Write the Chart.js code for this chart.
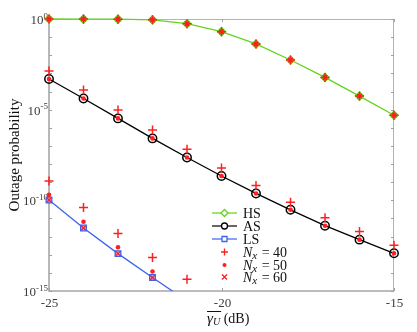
<!DOCTYPE html>
<html>
<head>
<meta charset="utf-8">
<script src="https://cdn.jsdelivr.net/npm/chart.js@4/dist/chart.umd.min.js"></script>
<style>
  html, body { margin: 0; padding: 0; background: #fff; }
  #wrap { width: 417px; height: 332px; position: relative; }
</style>
</head>
<body>
<div id="wrap"><canvas id="chart"></canvas></div>
<script>
// SNR axis (dB)
var snrAll = [-25, -24, -23, -22, -21, -20, -19, -18, -17, -16, -15];
var snrLS = [-25, -24, -23, -22, -21];

// analytical curves
var hsVals = [1, 0.99, 0.98, 0.9, 0.55, 0.2, 0.042, 5.5e-3, 6.0e-4, 5.6e-5, 4.9e-6];
var asVals = [4.9e-4, 4.1e-5, 3.3e-6, 2.6e-7, 2.3e-8, 2.2e-9, 2.4e-10, 3.0e-11, 4.0e-12, 6.8e-13, 1.2e-13];
var lsVals = [1.05e-10, 3.0e-12, 1.15e-13, 5.6e-15, 2.8e-16];

// simulation points, Nx = 40 / 50 / 60
var n40AS = [1.35e-3, 1.2e-4, 9.5e-6, 7.6e-7, 6.5e-8, 6.0e-9, 6.5e-10, 7.8e-11, 1.1e-11, 1.9e-12, 3.3e-13];
var n40LS = [1.15e-9, 4.0e-11, 1.5e-12, 7.1e-14, 4.4e-15];
var n50LS = [2.0e-10, 6.6e-12, 2.6e-13, 1.2e-14];
var n60LS = [1.05e-10, 3.0e-12, 1.15e-13, 5.6e-15];

var yTickExp = [0, -5, -10, -15];
var xTicks = [-25, -20, -15];

function pts(xs, ys){
  var out = [];
  for (var i = 0; i < ys.length; i++) out.push({x: xs[i], y: ys[i]});
  return out;
}

var GREEN = "#63d31c", BLUE = "#3b62f0", RED = "#ff1f1f";
var SERIF = "'Liberation Serif', 'Times New Roman', serif";

var n40 = pts(snrAll, hsVals).concat(pts(snrAll, n40AS), pts(snrLS, n40LS));
var n50 = pts(snrAll, hsVals).concat(pts(snrAll, asVals), pts(snrLS, n50LS));
var n60 = pts(snrAll, hsVals).concat(pts(snrLS, n60LS));

function drawMark(ctx, style, x, y, r, color, fill, lw){
  ctx.save();
  ctx.strokeStyle = color; ctx.lineWidth = lw;
  ctx.beginPath();
  if (style === "diamond"){
    ctx.moveTo(x, y - r); ctx.lineTo(x + r, y); ctx.lineTo(x, y + r); ctx.lineTo(x - r, y); ctx.closePath();
  } else if (style === "circle"){
    ctx.arc(x, y, r, 0, Math.PI * 2);
  } else if (style === "square"){
    ctx.rect(x - r, y - r, 2 * r, 2 * r);
  } else if (style === "cross"){
    ctx.moveTo(x - r, y); ctx.lineTo(x + r, y); ctx.moveTo(x, y - r); ctx.lineTo(x, y + r);
  } else if (style === "x"){
    ctx.moveTo(x - r, y - r); ctx.lineTo(x + r, y + r); ctx.moveTo(x + r, y - r); ctx.lineTo(x - r, y + r);
  } else if (style === "dot"){
    ctx.arc(x, y, r, 0, Math.PI * 2);
    ctx.fillStyle = color; ctx.fill();
  }
  if (fill && style !== "dot"){ ctx.fillStyle = fill; ctx.fill(); }
  if (style !== "dot") ctx.stroke();
  ctx.restore();
}

var decor = {
  id: "decor",
  beforeDatasetsDraw: function(chart){
    var ctx = chart.ctx, a = chart.chartArea;
    var xs = chart.scales.x, ys = chart.scales.y;
    ctx.save();
    // box
    ctx.strokeStyle = "#b4b4b4"; ctx.lineWidth = 1;
    ctx.beginPath();
    ctx.moveTo(a.left, a.top + 0.5); ctx.lineTo(a.right - 0.5, a.top + 0.5); ctx.lineTo(a.right - 0.5, a.bottom);
    ctx.stroke();
    ctx.strokeStyle = "#a6a6a6"; ctx.lineWidth = 1.6;
    ctx.beginPath();
    ctx.moveTo(a.left, a.top); ctx.lineTo(a.left, a.bottom); ctx.lineTo(a.right, a.bottom);
    ctx.stroke();
    // y ticks every decade, inward
    ctx.strokeStyle = "#a0a0a0"; ctx.lineWidth = 1;
    for (var e = -15; e <= 0; e++){
      var py = Math.round(ys.getPixelForValue(Math.pow(10, e))) + 0.5;
      ctx.beginPath();
      ctx.moveTo(a.left, py); ctx.lineTo(a.left + 3, py);
      ctx.moveTo(a.right, py); ctx.lineTo(a.right - 3, py);
      ctx.stroke();
    }
    ctx.fillStyle = "#3c3c3c";
    ctx.font = "13px " + SERIF;
    ctx.textAlign = "center"; ctx.textBaseline = "middle";
    xTicks.forEach(function(v){
      var px = Math.round(xs.getPixelForValue(v)) + 0.5;
      ctx.beginPath();
      ctx.moveTo(px, a.bottom); ctx.lineTo(px, a.bottom - 3);
      ctx.moveTo(px, a.top); ctx.lineTo(px, a.top + 3);
      ctx.stroke();
      ctx.fillText(String(v), px, a.bottom + 13);
    });
    // y tick labels 10^e
    ctx.textBaseline = "alphabetic";
    yTickExp.forEach(function(e){
      var py = ys.getPixelForValue(Math.pow(10, e));
      var sup = e === 0 ? "0" : "-" + (-e);
      ctx.font = "9px " + SERIF;
      var w = ctx.measureText(sup).width;
      ctx.textAlign = "left";
      ctx.fillText(sup, a.left - 1 - w, py - 0.5);
      ctx.font = "13px " + SERIF;
      ctx.textAlign = "right";
      ctx.fillText("10", a.left - 1 - w, py + 5);
    });
    // y title
    ctx.save();
    ctx.translate(15, (a.top + a.bottom) / 2);
    ctx.rotate(-Math.PI / 2);
    ctx.textAlign = "center"; ctx.textBaseline = "middle";
    ctx.fillStyle = "#111";
    ctx.font = "15px " + SERIF;
    ctx.fillText("Outage probability", 0, 0);
    ctx.restore();
    // x title: overline(gamma_U) (dB)
    var bx = 207, by = 323;
    ctx.fillStyle = "#111"; ctx.textAlign = "left";
    ctx.font = "italic 15px " + SERIF;
    ctx.fillText("\u03B3", bx, by);
    var gw = ctx.measureText("\u03B3").width;
    ctx.font = "italic 10px " + SERIF;
    ctx.fillText("U", bx + gw, by + 2);
    var uw = ctx.measureText("U").width;
    ctx.strokeStyle = "#111"; ctx.lineWidth = 1;
    ctx.beginPath(); ctx.moveTo(bx, 311.5); ctx.lineTo(bx + gw + uw + 1, 311.5); ctx.stroke();
    ctx.font = "14px " + SERIF;
    ctx.fillText(" (dB)", bx + gw + uw, by);
    // legend
    var lx0 = 212, lx1 = 237, tx = 243;
    var rows = [
      {y: 213, line: GREEN, mark: "diamond", col: GREEN, fill: "#fff", r: 3.5, text: "HS"},
      {y: 226, line: "#000", mark: "circle", col: "#000", fill: "#fff", r: 3, text: "AS"},
      {y: 239, line: BLUE, mark: "square", col: BLUE, fill: "#fff", r: 2.5, text: "LS"},
      {y: 252, mark: "cross", col: RED, r: 3.5, nx: "40"},
      {y: 265, mark: "dot", col: RED, r: 2, nx: "50"},
      {y: 277, mark: "x", col: RED, r: 2.5, nx: "60"}
    ];
    rows.forEach(function(r){
      if (r.line){
        ctx.strokeStyle = r.line; ctx.lineWidth = 1.2;
        ctx.beginPath(); ctx.moveTo(lx0, r.y); ctx.lineTo(lx1, r.y); ctx.stroke();
      }
      drawMark(ctx, r.mark, (lx0 + lx1) / 2, r.y, r.r, r.col, r.fill, 1.3);
      ctx.fillStyle = "#111"; ctx.textAlign = "left"; ctx.textBaseline = "middle";
      if (r.text){
        ctx.font = "14px " + SERIF;
        ctx.fillText(r.text, tx, r.y + 1);
      } else {
        ctx.font = "italic 14px " + SERIF;
        ctx.fillText("N", tx, r.y + 1);
        var nw = ctx.measureText("N").width;
        ctx.font = "italic 11px " + SERIF;
        ctx.fillText("x", tx + nw, r.y + 4);
        var xw = ctx.measureText("x").width;
        ctx.font = "14px " + SERIF;
        ctx.fillText(" = " + r.nx, tx + nw + xw + 1, r.y + 1);
      }
    });
    ctx.restore();
  }
};

var markClip = { left: 10, top: 10, right: 10, bottom: 10 };

new Chart(document.getElementById("chart"), {
  type: "line",
  data: {
    datasets: [
      { label: "Nx = 40", data: n40, showLine: false, order: 0, pointStyle: "cross", clip: markClip,
        pointRadius: 4.5, pointBorderColor: RED, pointBorderWidth: 1.5, pointBackgroundColor: RED },
      { label: "Nx = 60", data: n60, showLine: false, order: 1, pointStyle: "crossRot", clip: markClip,
        pointRadius: 3.2, pointBorderColor: RED, pointBorderWidth: 1.3, pointBackgroundColor: RED },
      { label: "Nx = 50", data: n50, showLine: false, order: 2, pointStyle: "circle", clip: markClip,
        pointRadius: 2.3, pointBorderColor: RED, pointBorderWidth: 0, pointBackgroundColor: RED },
      { label: "HS", data: pts(snrAll, hsVals), order: 3, borderColor: GREEN, borderWidth: 1.3, clip: markClip,
        pointStyle: "rectRot", pointRadius: 4, pointBorderColor: GREEN, pointBorderWidth: 1.5,
        pointBackgroundColor: "rgba(150,230,110,0.6)" },
      { label: "AS", data: pts(snrAll, asVals), order: 4, borderColor: "#000", borderWidth: 1.3, clip: markClip,
        pointStyle: "circle", pointRadius: 4.2, pointBorderColor: "#000", pointBorderWidth: 1.5,
        pointBackgroundColor: "rgba(0,0,0,0)" },
      { label: "LS", data: pts(snrLS, lsVals), order: 5, borderColor: BLUE, borderWidth: 1.3,
        clip: { left: 10, top: 10, right: 10, bottom: 0 },
        pointStyle: "rect", pointRadius: 4, pointBorderColor: BLUE, pointBorderWidth: 1.3,
        pointBackgroundColor: "rgba(160,180,250,0.7)" }
    ]
  },
  options: {
    responsive: true, maintainAspectRatio: false, animation: false,
    layout: { padding: { top: 19, right: 23, left: 0, bottom: 0 } },
    plugins: { legend: { display: false }, tooltip: { enabled: false } },
    elements: { line: { tension: 0 } },
    scales: {
      x: {
        type: "linear", min: -25, max: -15,
        afterFit: function(s){ s.height = 41; },
        grid: { display: false }, border: { display: false },
        ticks: { display: false }
      },
      y: {
        type: "logarithmic", min: 1e-15, max: 1,
        afterFit: function(s){ s.width = 49; },
        grid: { display: false }, border: { display: false },
        ticks: { display: false }
      }
    }
  },
  plugins: [decor]
});
</script>
</body>
</html>
